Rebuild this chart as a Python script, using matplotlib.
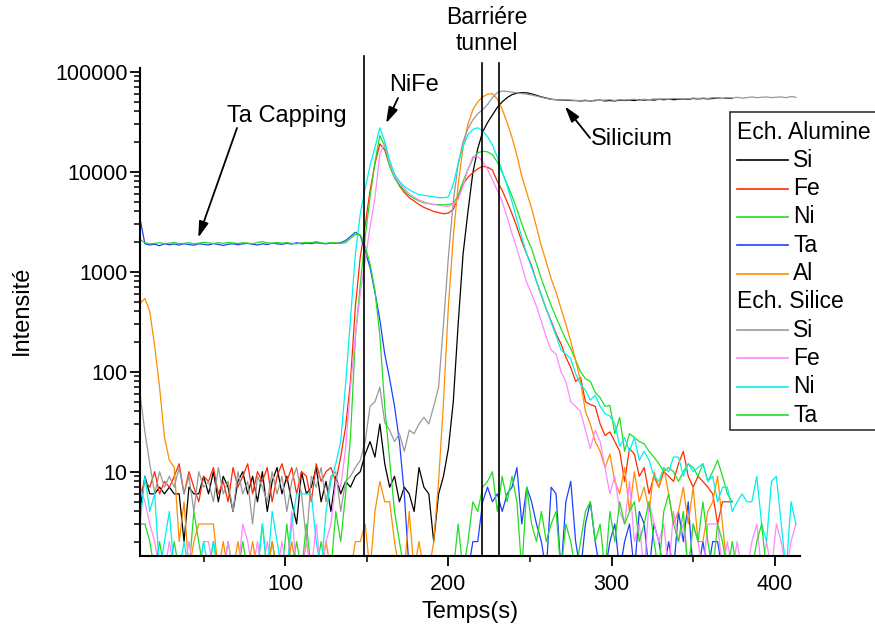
import numpy as np
import matplotlib
matplotlib.use("Agg")
import matplotlib.pyplot as plt
from matplotlib.lines import Line2D
from matplotlib.patches import Rectangle
from matplotlib.ticker import FixedLocator, LogLocator, NullFormatter, FuncFormatter

plt.rcParams['font.family'] = ['Liberation Sans', 'DejaVu Sans']

# sampling grid (s): alumine sample stops earlier than silice sample
t_alu = np.arange(11, 375, 3)
t_sil = np.arange(11, 414, 3)

# --- Ech. Alumine ---
alu_si = [
    4, 9, 6, 6, 7, 6, 7, 6, 6, 2,
    7, 6, 6, 9, 6, 10, 5, 9, 7, 4,
    8, 10, 6, 9, 5, 10, 4, 8, 11, 6,
    9, 5, 3, 10, 6, 7, 11, 5, 8, 4,
    9, 6, 8, 7, 9, 10, 15, 20, 14, 30,
    12, 7, 9, 5, 7, 6, 4, 11, 7, 6,
    2, 6, 9, 17, 50, 300, 1500, 4000, 9800, 17000,
    25000, 31000, 37000, 44000, 50000, 55000, 59000, 61000, 61700, 61500,
    60000, 58000, 56000, 54500, 53000, 52500, 52000, 52000, 51500, 51500,
    51000, 51500, 51000, 51500, 52000, 51000, 51500, 51000, 52000, 51500,
    52000, 51500, 52500, 52000, 52500, 52000, 53000, 52500, 53000, 52500,
    53000, 53500, 53000, 54000, 53500, 54000, 53500, 54000, 54500, 54000,
    54500, 54000]

alu_fe = [
    6, 8, 7, 10, 6, 8, 7, 9, 12, 6,
    10, 7, 5, 9, 8, 11, 6, 8, 5, 11,
    7, 9, 12, 6, 10, 8, 11, 5, 9, 12,
    8, 11, 6, 10, 9, 5, 12, 8, 10, 11,
    8, 14, 28, 80, 450, 1400, 2900, 6500, 12000, 19000,
    16500, 11500, 9000, 7200, 6200, 5500, 5100, 4700, 4400, 4200,
    4000, 3900, 3800, 3850, 4200, 5600, 7500, 8800, 9800, 10700,
    11300, 11100, 10400, 8000, 6500, 5000, 3800, 2800, 2000, 1500,
    1150, 800, 580, 420, 320, 240, 190, 140, 110, 80,
    88, 50, 47, 45, 30, 23, 25, 20, 16, 8,
    17, 15, 9, 11, 6, 9, 7, 10, 9, 8,
    12, 16, 9, 7, 9, 8, 7, 6, 3, 5,
    5, 5]

alu_ni = [
    3, 3, 2, 1, 2, 1, 1, 2, 1, 1,
    1, 4, 2, 1, 1, 2, 1, 1, 2, 1,
    1, 2, 1, 1, 1, 3, 1, 2, 1, 1,
    3, 1, 2, 1, 3, 1, 1, 2, 1, 1,
    4, 2, 6, 22, 220, 750, 2200, 5600, 12500, 23000,
    18000, 11300, 8600, 7400, 6500, 5800, 5400, 5100, 4900, 4800,
    4700, 4700, 4650, 4700, 4800, 5800, 8000, 10500, 13500, 15500,
    16000, 15800, 14800, 12500, 9800, 7500, 5700, 4200, 3000, 2200,
    1700, 1200, 850, 620, 460, 350, 270, 210, 170, 130,
    100, 85, 80, 62, 55, 45, 46, 24, 35, 16,
    24, 22, 20, 19, 16, 14, 12, 10, 11, 10,
    8, 10, 12, 11, 9, 12, 8, 10, 13, 9,
    6, 5]

alu_ta = [
    3400, 1900, 1850, 1880, 1820, 1900, 1860, 1890, 1850, 1900,
    1870, 1840, 1900, 1880, 1850, 1910, 1870, 1830, 1880, 1900,
    1860, 1900, 1920, 1880, 1850, 1900, 1870, 1930, 1900, 1880,
    1920, 1890, 1950, 1900, 1930, 1910, 1950, 1920, 1900, 1940,
    1920, 1950, 2050, 2250, 2480, 2300, 1600, 1100, 620, 330,
    150, 85, 45, 20, 6, 1, 1, 1, 1, 1,
    1, 1, 1, 1, 1, 1, 1, 1, 2, 2,
    5, 7, 5, 6, 4, 6, 7, 11, 3, 7,
    5, 3, 2, 1, 7, 6, 1, 5, 8, 2,
    1, 3, 5, 2, 1, 1, 2, 3, 1, 2,
    3, 1, 4, 3, 1, 3, 2, 1, 2, 1,
    4, 2, 5, 1, 1, 2, 1, 2, 2, 1,
    1, 1]

alu_al = [
    480, 540, 400, 180, 70, 22, 13, 11, 2, 5,
    1, 2, 3, 3, 3, 3, 1, 2, 1, 1,
    2, 1, 1, 2, 1, 1, 1, 2, 1, 1,
    1, 2, 1, 1, 2, 1, 1, 1, 2, 1,
    1, 1, 1, 1, 2, 2, 3, 1, 4, 8,
    5, 5, 2, 1, 1, 4, 1, 2, 1, 1,
    2, 8, 50, 450, 2200, 7500, 17500, 30000, 41700, 50000,
    56000, 59500, 60500, 53000, 42000, 31000, 22000, 14500, 9000, 6200,
    4300, 2800, 1800, 1250, 850, 620, 430, 300, 200, 130,
    80, 40, 30, 20, 16, 11, 15, 8, 6, 11,
    4, 10, 5, 7, 4, 10, 7, 11, 6, 3,
    4, 7, 3, 7, 2, 2, 4, 5, 9, 3,
    1, 1]

# --- Ech. Silice ---
sil_si = [
    60, 25, 12, 6, 10, 7, 9, 7, 11, 6,
    9, 4, 10, 7, 8, 5, 11, 6, 8, 4,
    10, 6, 8, 3, 9, 7, 5, 10, 6, 9,
    4, 8, 11, 6, 2, 9, 7, 11, 5, 9,
    10, 4, 8, 9, 11, 13, 20, 45, 50, 70,
    31, 26, 20, 24, 16, 26, 24, 30, 35, 30,
    45, 70, 300, 1400, 5000, 12000, 20000, 27000, 33000, 38000,
    41700, 47000, 55000, 62000, 64000, 63500, 62500, 61500, 60500, 59500,
    58500, 57000, 55500, 54000, 53000, 52500, 52000, 52500, 52000, 51500,
    51500, 52000, 51000, 52000, 51500, 52000, 52500, 51500, 52500, 52000,
    52500, 53000, 52000, 53000, 52500, 53500, 53000, 53500, 53000, 54000,
    53500, 54000, 53500, 54500, 54000, 54500, 54000, 55000, 54500, 54000,
    55000, 54500, 55500, 54500, 55000, 56000, 55000, 55500, 56000, 55000,
    55500, 56000, 55000, 56500, 55500]

sil_fe = [
    7, 5, 3, 2, 1, 1, 2, 1, 1, 1,
    2, 1, 1, 2, 2, 1, 1, 1, 2, 1,
    1, 3, 2, 1, 2, 1, 2, 1, 1, 2,
    1, 4, 1, 1, 2, 1, 3, 1, 2, 3,
    8, 7, 17, 70, 230, 600, 1300, 2800, 5500, 15000,
    19500, 12300, 9000, 7800, 6800, 6000, 5600, 5200, 5000, 4800,
    4700, 4600, 4550, 4500, 4700, 5300, 7200, 10500, 14200, 14300,
    12700, 10500, 8300, 6500, 5000, 3500, 2400, 1700, 1150, 780,
    600, 450, 320, 220, 165, 150, 100, 80, 50, 45,
    40, 26, 17, 26, 20, 11, 6, 9, 4, 3,
    8, 2, 3, 1, 5, 3, 2, 3, 1, 4,
    2, 3, 1, 3, 2, 1, 3, 3, 3, 1,
    2, 1, 2, 1, 1, 2, 3, 1, 2, 1,
    3, 2, 1, 2, 3]

sil_ni = [
    3, 9, 4, 6, 1, 2, 4, 1, 1, 2,
    1, 1, 1, 2, 1, 2, 1, 1, 1, 1,
    1, 1, 1, 1, 1, 3, 1, 4, 2, 1,
    1, 3, 6, 6, 6, 6, 2, 1, 4, 8,
    12, 20, 75, 330, 1500, 3800, 6800, 11500, 17500, 27500,
    20000, 13000, 9500, 8000, 7100, 6600, 6200, 5900, 5800, 5700,
    5600, 5500, 5500, 5600, 7500, 12000, 18000, 23500, 26500, 27500,
    25500, 22500, 18500, 14000, 10000, 7200, 5000, 3300, 2200, 1500,
    1100, 800, 580, 420, 310, 230, 165, 150, 135, 95,
    75, 65, 52, 58, 45, 38, 36, 30, 18, 22,
    16, 22, 13, 16, 13, 9, 8, 11, 10, 14,
    14, 9, 12, 10, 11, 12, 8, 9, 5, 7,
    7, 4, 5, 6, 5, 5, 9, 3, 2, 8,
    9, 3, 1, 5, 3]

sil_ta = [
    2100, 1950, 1900, 1920, 1950, 1900, 1930, 1960, 1900, 1920,
    1950, 1900, 1930, 1970, 1940, 1910, 1950, 1920, 1960, 1940,
    1910, 1950, 1930, 1900, 1960, 2000, 1940, 1920, 1960, 1930,
    1950, 1920, 1900, 1940, 1960, 1950, 2000, 1940, 1920, 1960,
    1940, 1920, 1950, 2150, 2350, 2350, 1800, 1200, 650, 230,
    45, 13, 4, 2, 1, 1, 1, 1, 1, 1,
    1, 1, 1, 1, 1, 3, 1, 2, 5, 4,
    7, 8, 10, 4, 9, 5, 9, 5, 1, 7,
    3, 2, 4, 2, 3, 4, 1, 3, 2, 1,
    2, 4, 5, 2, 3, 1, 4, 2, 5, 3,
    4, 5, 2, 3, 5, 2, 1, 4, 6, 3,
    2, 4, 1, 3, 2, 5, 2, 1, 3, 2,
    1, 2, 1, 1, 1, 1, 2, 3, 1, 1,
    1, 1, 1, 1, 1]

alu_labels = ['Si', 'Fe', 'Ni', 'Ta', 'Al']
sil_labels = ['Si', 'Fe', 'Ni', 'Ta']
interfaces = [148.4, 220.8, 231.0]

alu_colors = ['#000000', '#ff2a00', '#22dd22', '#2040ff', '#ff8c00']
sil_colors = ['#999999', '#ff88ff', '#00f0f0', '#22dd22']

W, H = 875, 631
fig = plt.figure(figsize=(W / 100, H / 100), dpi=100)


def fx(px):
    return px / W


def fy(py):
    return 1 - py / H


ax = fig.add_axes([fx(140), fy(556), 660 / W, 488 / H])

for ys, c in zip([alu_si, alu_fe, alu_ni, alu_ta, alu_al], alu_colors):
    ax.plot(t_alu, ys, color=c, lw=0.9)
for ys, c in zip([sil_si, sil_fe, sil_ni, sil_ta], sil_colors):
    ax.plot(t_sil, ys, color=c, lw=0.9)

ax.set_yscale('log')
ax.set_xlim(11, 415.5)
ax.set_ylim(1.435, 108900)

# interface markers, drawn a bit above the frame
ax.axvline(interfaces[0], ymin=0, ymax=1.025, color='black', lw=1.2, clip_on=False)
for x in interfaces[1:]:
    ax.axvline(x, ymin=0, ymax=1.01, color='black', lw=1.2, clip_on=False)

ax.spines['top'].set_visible(False)
ax.spines['right'].set_visible(False)
for s in ('left', 'bottom'):
    ax.spines[s].set_linewidth(1.5)

ax.xaxis.set_major_locator(FixedLocator([100, 200, 300, 400]))
ax.xaxis.set_minor_locator(FixedLocator([50, 150, 250, 350]))
ax.yaxis.set_major_locator(FixedLocator([10, 100, 1000, 10000, 100000]))
ax.yaxis.set_minor_locator(LogLocator(base=10, subs=np.arange(2, 10), numticks=20))
ax.yaxis.set_major_formatter(FuncFormatter(lambda v, p: '%d' % v))
ax.yaxis.set_minor_formatter(NullFormatter())
ax.tick_params(which='major', direction='out', length=7, width=1.3, labelsize=15.5)
ax.tick_params(which='minor', direction='out', length=4, width=1.1)
ax.tick_params(axis='x', pad=6)
ax.tick_params(axis='y', pad=2)

fig.text(fx(470), fy(612), 'Temps(s)', ha='center', va='center', fontsize=17)
fig.text(fx(22), fy(310), 'Intensité', ha='center', va='center', rotation=90, fontsize=17)

# annotations
fig.text(fx(287), fy(116), 'Ta Capping', ha='center', va='center', fontsize=17)
fig.text(fx(414), fy(85), 'NiFe', ha='center', va='center', fontsize=17)
fig.text(fx(487), fy(18), 'Barriére', ha='center', va='center', fontsize=16.5)
fig.text(fx(487), fy(43), 'tunnel', ha='center', va='center', fontsize=16.5)
fig.text(fx(632), fy(139), 'Silicium', ha='center', va='center', fontsize=17)

arrow = dict(arrowstyle='-|>,head_length=0.6,head_width=0.18', color='black', lw=1.3,
             mutation_scale=16, shrinkA=0, shrinkB=0)
ax.annotate('', xy=(46.7, 2190), xytext=(237, H - 128), textcoords='figure pixels', arrowprops=arrow)
ax.annotate('', xy=(161.8, 30500), xytext=(398, H - 98), textcoords='figure pixels', arrowprops=arrow)
ax.annotate('', xy=(271.4, 45000), xytext=(590, H - 138), textcoords='figure pixels', arrowprops=arrow)

# legend box drawn by hand (two sample groups with headers)
fig.add_artist(Rectangle((fx(729.5), fy(430)), 170 / W, 318 / H, transform=fig.transFigure,
                         facecolor='white', edgecolor='#333333', lw=1.2, zorder=5))
rows = [('Ech. Alumine', None)] + list(zip(alu_labels, alu_colors)) + \
       [('Ech. Silice', None)] + list(zip(sil_labels, sil_colors))
for i, (lab, c) in enumerate(rows):
    y = 132 + i * 28.3
    if c is None:
        fig.text(fx(737), fy(y), lab, ha='left', va='center', fontsize=16.5, zorder=6)
    else:
        fig.add_artist(Line2D([fx(737), fx(788)], [fy(y), fy(y)], color=c, lw=1.2,
                              transform=fig.transFigure, zorder=6))
        fig.text(fx(793), fy(y), lab, ha='left', va='center', fontsize=16.5, zorder=6)

fig.savefig('out.png', dpi=100)
